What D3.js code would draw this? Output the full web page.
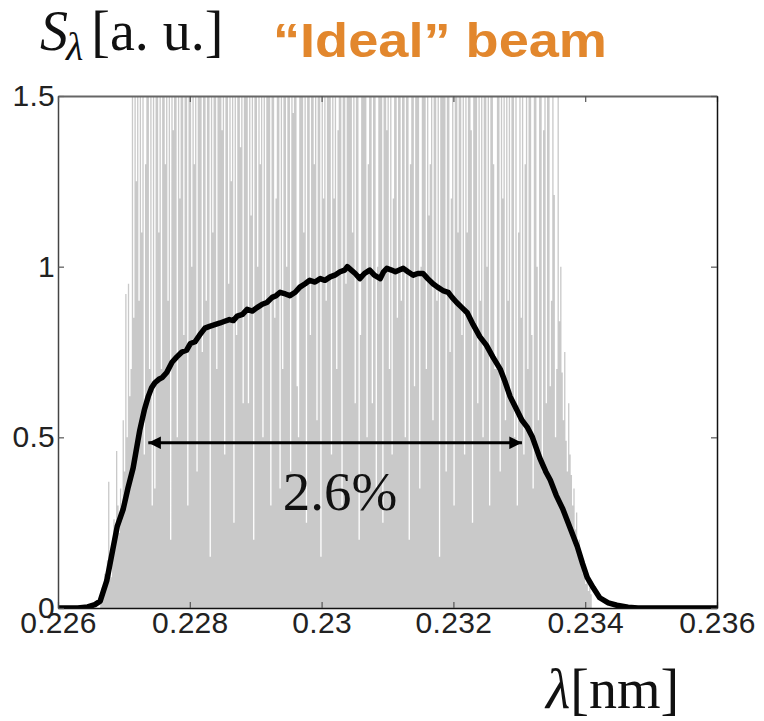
<!DOCTYPE html>
<html><head><meta charset="utf-8">
<script src="https://cdn.jsdelivr.net/npm/d3@7"></script>
<style>html,body{margin:0;padding:0;background:#fff;}svg{display:block;}</style>
</head><body><svg id="c" width="764" height="721"></svg>
<script>
// ---- data ----
const xTicks = [0.226, 0.228, 0.230, 0.232, 0.234, 0.236];
const xTickLabels = ["0.226", "0.228", "0.23", "0.232", "0.234", "0.236"];
const yTicks = [0, 0.5, 1, 1.5];
const yTickLabels = ["0", "0.5", "1", "1.5"];

// single-shot spiky spectrum (gray), sampled every 0.00002 nm starting 0.22664
const spikeStart = 0.22664;
const spikeStep = 0.00002;
const spikeValues = [
0.03,0.06,0.05,0.10,0.08,0.14,0.37,0.12,0.09,0.20,
0.26,0.18,0.46,0.30,0.22,0.35,0.28,0.55,0.40,0.92,
0.50,0.95,0.62,0.70,1.6,0.85,1.6,1.25,1.6,0.9,
1.6,1.1,1.6,0.45,1.3,1.6,1.6,0.7,1.6,0.3,
1.6,0.35,1.6,1.6,1.1,1.6,0.7,1.6,1.6,1.3,
1.6,0.9,1.6,0.2,1.6,1.4,1.6,1.6,0.5,1.6,
1.2,1.6,1.6,0.8,1.6,1.6,0.3,1.6,1.6,1.0,
1.6,1.3,1.6,0.4,1.6,1.6,1.6,0.75,1.6,1.6,
0.9,1.6,1.6,0.15,1.6,1.1,1.6,1.6,0.7,1.6,
1.6,1.6,1.4,1.6,0.45,1.6,1.6,0.95,1.6,1.25,
1.6,0.25,1.6,0.8,1.6,1.6,1.35,1.6,0.6,1.6,
1.6,1.6,0.6,1.6,1.15,1.6,0.2,1.6,1.6,1.0,
1.6,1.3,1.6,0.5,1.6,0.9,1.6,1.6,1.6,0.3,
1.6,1.6,0.85,1.2,1.6,1.6,0.35,1.6,0.7,1.6,
1.6,1.0,1.6,1.6,0.4,1.6,1.45,1.6,1.6,0.65,
0.5,1.6,1.6,1.6,1.1,1.6,0.25,1.6,1.6,0.8,
1.6,1.6,1.3,1.6,0.55,1.6,1.6,0.15,1.6,1.2,
1.6,0.9,1.6,1.6,1.6,0.45,1.6,1.2,1.6,0.7,
1.4,1.6,1.6,0.3,1.6,1.6,0.95,1.6,1.6,1.6,
1.6,1.1,1.6,0.6,1.6,1.6,0.2,0.8,1.6,1.6,
1.6,1.6,0.5,1.3,1.6,1.6,0.6,1.6,1.6,0.35,
1.0,1.6,1.6,1.6,0.25,1.6,1.6,1.4,1.6,0.7,
1.6,0.45,1.2,1.6,1.6,0.85,1.6,1.6,0.9,1.6,
1.6,0.5,1.6,1.6,0.2,1.3,1.6,1.6,0.65,1.6,
1.6,1.6,0.35,1.0,1.6,1.6,1.6,0.7,1.6,1.15,
1.3,1.6,0.55,1.6,1.6,0.9,1.6,0.15,1.6,1.6,
1.6,1.6,0.4,1.6,1.6,0.75,1.2,1.6,0.3,1.6,
1.6,1.1,1.6,1.6,0.8,1.6,0.45,1.6,1.1,1.6,
1.6,1.4,0.25,1.6,1.6,1.6,0.6,1.6,0.9,1.6,
0.5,1.6,1.6,1.0,1.6,0.3,1.6,1.6,1.3,0.7,
0.7,1.6,1.6,0.4,1.6,1.2,1.6,0.55,1.6,0.9,
1.6,0.6,1.6,1.6,0.5,1.6,0.3,1.1,1.6,0.85,
1.6,0.45,1.3,1.6,0.7,1.6,1.6,0.8,0.35,1.6,
1.6,1.0,0.55,1.6,1.6,0.4,1.4,1.6,0.6,1.6,
1.6,0.65,0.9,1.6,1.21,0.5,0.7,1.6,0.84,1.0,
0.69,0.55,0.75,0.49,0.40,0.6,0.45,0.39,0.30,0.35,
0.23,0.28,0.18,0.20,0.13,0.15,0.10,0.12,0.07,0.08,
0.05,0.06,0.04
];

// averaged spectrum (black)
const avgLambda = [
0.2260,0.2263,0.22645,0.22656,0.22664,0.22674,0.22683,0.22690,0.22699,0.22706,
0.22714,0.22724,0.22731,0.22737,0.22742,0.22747,0.22753,0.22758,0.22765,0.22773,
0.22780,0.22788,0.22795,0.22801,0.22808,0.22815,0.22823,0.22830,0.22838,0.22846,
0.22853,0.22860,0.22866,0.22872,0.22880,0.22887,0.22895,0.22902,0.22910,0.22917,
0.22925,0.22931,0.22937,0.22945,0.22952,0.22960,0.22967,0.22975,0.22982,0.22990,
0.22998,0.23005,0.23013,0.23020,0.23028,0.23035,0.23039,0.23045,0.23051,0.23058,
0.23065,0.23073,0.23080,0.23089,0.23094,0.23099,0.23106,0.23112,0.23118,0.23124,
0.23131,0.23139,0.23146,0.23154,0.23161,0.23169,0.23176,0.23184,0.23192,0.23198,
0.23205,0.23213,0.23221,0.23230,0.23240,0.23250,0.23260,0.23271,0.23278,0.23286,
0.23295,0.23304,0.23312,0.23320,0.23331,0.23340,0.23347,0.23356,0.23366,0.23377,
0.23388,0.23396,0.23403,0.23412,0.23422,0.23435,0.23448,0.23465,0.23480,0.2360
];
const avgValue = [
0,0,0.003,0.01,0.02,0.08,0.17,0.24,0.29,0.35,
0.41,0.52,0.58,0.62,0.645,0.66,0.67,0.675,0.69,0.72,
0.735,0.75,0.755,0.775,0.78,0.80,0.82,0.825,0.83,0.835,
0.84,0.845,0.842,0.855,0.86,0.875,0.87,0.88,0.89,0.895,
0.91,0.915,0.925,0.92,0.915,0.925,0.94,0.95,0.96,0.955,
0.965,0.96,0.97,0.975,0.985,0.99,1.0,0.99,0.98,0.965,
0.98,0.99,0.975,0.965,0.985,0.995,0.99,0.985,0.99,0.995,
0.985,0.975,0.98,0.98,0.965,0.95,0.94,0.93,0.925,0.91,
0.895,0.88,0.865,0.83,0.795,0.77,0.735,0.70,0.665,0.62,
0.585,0.55,0.53,0.50,0.44,0.40,0.375,0.33,0.29,0.235,
0.18,0.13,0.09,0.06,0.03,0.015,0.008,0.002,0,0
];

// bandwidth annotation
const bandLambda = [0.22737, 0.23304];
const bandLevel = 0.484;
const bandLabel = "2.6%";

// ---- drawing ----
const svg = d3.select("#c");
const m = {left: 58, right: 717, top: 96, bottom: 608};
const x = d3.scaleLinear().domain([0.226, 0.236]).range([m.left, m.right]);
const y = d3.scaleLinear().domain([0, 1.5]).range([m.bottom, m.top]);

svg.append("rect").attr("width", 764).attr("height", 721).attr("fill", "#fff");

const defs = svg.append("defs");
defs.append("clipPath").attr("id", "clip").append("rect")
  .attr("x", m.left).attr("y", m.top).attr("width", m.right - m.left).attr("height", m.bottom - m.top);
defs.append("marker").attr("id", "ah").attr("viewBox", "0 0 10 10")
  .attr("refX", 10).attr("refY", 5).attr("markerWidth", 5.5).attr("markerHeight", 4.2)
  .attr("markerUnits", "strokeWidth").attr("orient", "auto-start-reverse")
  .append("path").attr("d", "M0,0 L10,5 L0,10 Z").attr("fill", "#000");

const plot = svg.append("g").attr("clip-path", "url(#clip)");
const spikes = spikeValues.map((v, i) => ({l: spikeStart + i * spikeStep, v}));
spikes.push({l: spikeStart + spikeValues.length * spikeStep, v: 0});
plot.append("path").datum(spikes)
  .attr("d", d3.area().curve(d3.curveStepAfter).x(d => x(d.l)).y0(y(0)).y1(d => y(d.v)))
  .attr("fill", "#c9c9c9").attr("stroke", "none");

const avg = avgLambda.map((l, i) => ({l, v: avgValue[i]}));
plot.append("path").datum(avg)
  .attr("d", d3.line().x(d => x(d.l)).y(d => y(d.v)))
  .attr("fill", "none").attr("stroke", "#000").attr("stroke-width", 5.5).attr("stroke-linejoin", "round");

// axes (box style, ticks inward)
const fontTick = "'Liberation Sans', Arial, sans-serif";
const gx = svg.append("g").attr("transform", `translate(0,${m.bottom})`)
  .call(d3.axisBottom(x).tickValues(xTicks).tickSize(-6).tickSizeOuter(0).tickPadding(4)
    .tickFormat((d, i) => xTickLabels[i]));
const gy = svg.append("g").attr("transform", `translate(${m.left},0)`)
  .call(d3.axisLeft(y).tickValues(yTicks).tickSize(-6).tickSizeOuter(0).tickPadding(3)
    .tickFormat((d, i) => yTickLabels[i]));
const gt = svg.append("g").attr("transform", `translate(0,${m.top})`)
  .call(d3.axisTop(x).tickValues(xTicks).tickSize(-6).tickSizeOuter(0).tickFormat(""));
const gr = svg.append("g").attr("transform", `translate(${m.right},0)`)
  .call(d3.axisRight(y).tickValues(yTicks).tickSize(-6).tickSizeOuter(0).tickFormat(""));
[gx, gy, gt, gr].forEach(g => {
  g.selectAll("text").attr("font-family", fontTick).attr("font-size", 30).attr("fill", "#222")
    .attr("letter-spacing", "0.3px");
  g.selectAll(".tick line").attr("stroke", "#555").attr("stroke-width", 1.2);
});
gx.select(".domain").attr("stroke", "#111").attr("stroke-width", 1.5);
gy.select(".domain").attr("stroke", "#444").attr("stroke-width", 1.5);
gt.select(".domain").attr("stroke", "#666").attr("stroke-width", 2);
gr.select(".domain").attr("stroke", "#111").attr("stroke-width", 1.5);

// bandwidth arrow
svg.append("line")
  .attr("x1", x(bandLambda[0])).attr("x2", x(bandLambda[1]))
  .attr("y1", y(bandLevel)).attr("y2", y(bandLevel))
  .attr("stroke", "#000").attr("stroke-width", 3)
  .attr("marker-start", "url(#ah)").attr("marker-end", "url(#ah)");
svg.append("text").attr("x", x((bandLambda[0] + bandLambda[1]) / 2) + 5).attr("y", 510)
  .attr("text-anchor", "middle").attr("font-family", "'Liberation Serif', 'DejaVu Serif', serif")
  .attr("font-size", 55).attr("fill", "#111").text(bandLabel);

// titles
const serif = "'Liberation Serif', 'DejaVu Serif', serif";
const t1 = svg.append("text").attr("x", 40).attr("y", 50).attr("font-family", serif).attr("fill", "#111");
t1.append("tspan").attr("font-style", "italic").attr("font-size", 56).text("S");
t1.append("tspan").attr("font-style", "italic").attr("font-size", 40).attr("dy", 10).attr("dx", -2).text("λ");
t1.append("tspan").attr("font-size", 56).attr("dy", -10).attr("dx", 8).text("[a. u.]");

svg.append("text").attr("x", 273).attr("y", 57)
  .attr("font-family", "'Liberation Sans', Arial, sans-serif").attr("font-weight", "bold")
  .attr("font-size", 49).attr("fill", "#e2872d")
  .attr("textLength", 334).attr("lengthAdjust", "spacingAndGlyphs")
  .text("\u201CIdeal\u201D beam");

const t2 = svg.append("text").attr("x", 546).attr("y", 708).attr("font-family", serif).attr("fill", "#111");
t2.append("tspan").attr("font-style", "italic").attr("font-size", 56).text("λ");
t2.append("tspan").attr("font-size", 56).text("[nm]");
</script></body></html>
